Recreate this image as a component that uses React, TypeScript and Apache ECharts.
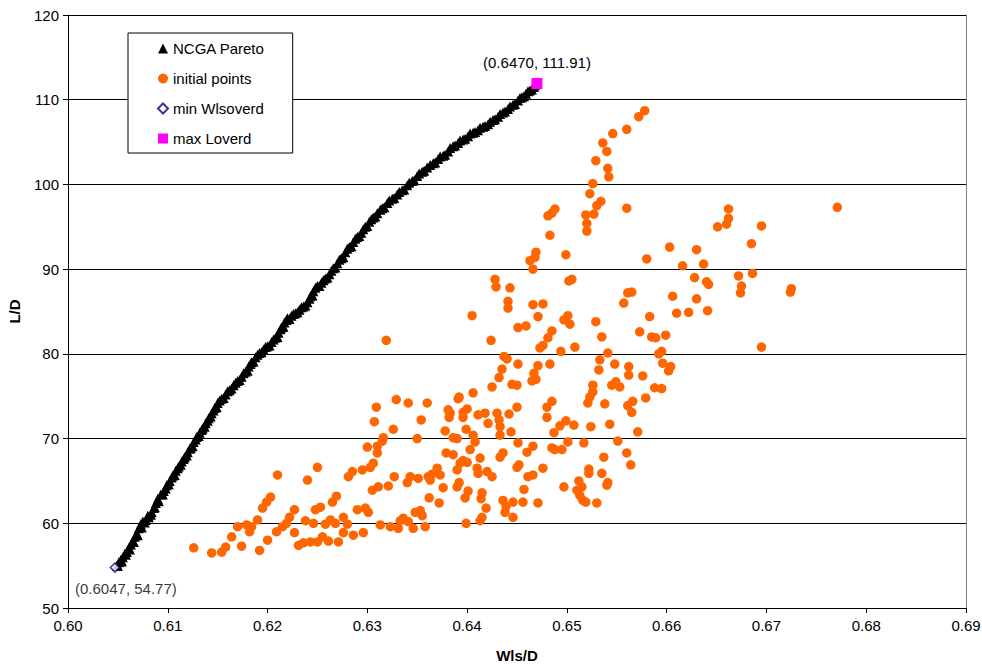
import React, { useEffect, useRef } from "react";
import * as echarts from "echarts";

const FONT = "'Liberation Sans', Arial, sans-serif";

const xRange = [0.6, 0.69];
const yRange = [50, 120];
const xStep = 0.01;
const yStep = 10;

const seriesNames = ["NCGA Pareto", "initial points", "min Wlsoverd", "max Loverd"];
const axisNames = { x: "Wls/D", y: "L/D" };

const minPoint = [[0.6047, 54.77]];
const maxPoint = [[0.647, 111.91]];

const paretoPoints = [
  [0.6049, 55.0], [0.6051, 55.4], [0.6053, 55.7], [0.6055, 56.0], [0.6057, 56.4], [0.6059, 56.6],
  [0.6061, 57.1], [0.6063, 57.5], [0.6065, 57.9], [0.6067, 58.4], [0.6069, 58.8], [0.6071, 59.4],
  [0.6073, 59.9], [0.6075, 60.2], [0.6078, 60.4], [0.6081, 60.7], [0.6084, 61.3], [0.6086, 61.8],
  [0.6088, 62.4], [0.609, 62.9], [0.6093, 63.4], [0.6096, 63.8], [0.6099, 64.5], [0.6102, 65.0],
  [0.6105, 65.6], [0.6108, 66.2], [0.6111, 66.7], [0.6114, 67.3], [0.6117, 67.8], [0.612, 68.4],
  [0.6123, 68.9], [0.6126, 69.6], [0.6129, 70.2], [0.6132, 70.7], [0.6135, 71.2], [0.6138, 71.8],
  [0.6141, 72.4], [0.6144, 73.0], [0.6147, 73.6], [0.615, 74.2], [0.6154, 74.7], [0.6158, 75.2],
  [0.6162, 75.7], [0.6166, 76.3], [0.617, 76.8], [0.6174, 77.3], [0.6178, 77.9], [0.6181, 78.5],
  [0.6184, 79.0], [0.6188, 79.6], [0.6192, 80.1], [0.6196, 80.5], [0.62, 80.9], [0.6204, 81.4],
  [0.6208, 81.9], [0.6211, 82.5], [0.6214, 83.1], [0.6217, 83.7], [0.622, 84.2], [0.6224, 84.5],
  [0.6228, 84.8], [0.6232, 85.2], [0.6236, 85.6], [0.624, 86.1], [0.6243, 86.8], [0.6246, 87.4],
  [0.625, 88.0], [0.6254, 88.4], [0.6258, 88.9], [0.6262, 89.4], [0.6266, 90.1], [0.627, 90.7],
  [0.6274, 91.3], [0.6278, 92.0], [0.6282, 92.6], [0.6286, 93.2], [0.629, 93.8], [0.6294, 94.3],
  [0.6298, 95.0], [0.6302, 95.6], [0.6306, 96.1], [0.631, 96.6], [0.6315, 97.2], [0.632, 97.8],
  [0.6325, 98.3], [0.633, 98.8], [0.6335, 99.3], [0.634, 99.9], [0.6345, 100.4], [0.635, 101.0],
  [0.6355, 101.5], [0.636, 102.0], [0.6366, 102.5], [0.6371, 103.0], [0.6376, 103.4], [0.6381, 103.9],
  [0.6386, 104.5], [0.6391, 104.9], [0.6396, 105.3], [0.6401, 105.7], [0.6406, 106.1], [0.6411, 106.4],
  [0.6416, 106.8], [0.6421, 107.1], [0.6426, 107.6], [0.6431, 108.0], [0.6436, 108.5], [0.6441, 108.9],
  [0.6446, 109.4], [0.6451, 109.9], [0.6455, 110.3], [0.6459, 110.7], [0.6463, 111.1], [0.6467, 111.5],
  [0.605, 55.0], [0.6054, 55.5], [0.6058, 56.3], [0.6062, 56.9], [0.6066, 57.8], [0.607, 58.6],
  [0.6074, 59.5], [0.6077, 60.1], [0.608, 60.9], [0.6083, 61.0], [0.6087, 61.9], [0.6091, 62.6],
  [0.6095, 63.4], [0.6098, 64.1], [0.6101, 64.6], [0.6104, 65.4], [0.6107, 65.7], [0.611, 66.5],
  [0.6113, 66.9], [0.6116, 67.6], [0.6119, 68.0], [0.6122, 68.8], [0.6125, 69.1], [0.6128, 69.9],
  [0.6131, 70.3], [0.6134, 71.0], [0.6137, 71.4], [0.614, 72.1], [0.6143, 72.6], [0.6146, 73.3],
  [0.6149, 73.7], [0.6152, 74.5], [0.6156, 74.8], [0.616, 75.6], [0.6164, 75.9], [0.6168, 76.6],
  [0.6172, 76.9], [0.6176, 77.7], [0.618, 78.0], [0.6183, 78.8], [0.6186, 79.1], [0.619, 79.9],
  [0.6194, 80.2], [0.6198, 80.8], [0.6202, 81.0], [0.6206, 81.7], [0.621, 82.0], [0.6213, 82.9],
  [0.6216, 83.2], [0.6219, 84.0], [0.6222, 84.1], [0.6226, 84.7], [0.623, 84.9], [0.6234, 85.5],
  [0.6238, 85.7], [0.6242, 86.5], [0.6245, 86.9], [0.6248, 87.8], [0.6252, 88.0], [0.6256, 88.7],
  [0.626, 89.0], [0.6264, 89.8], [0.6268, 90.2], [0.6272, 91.1], [0.6276, 91.4], [0.628, 92.4],
  [0.6284, 92.7], [0.6288, 93.6], [0.6292, 93.9], [0.6296, 94.7], [0.63, 95.1], [0.6304, 95.9],
  [0.6308, 96.2], [0.6313, 97.0], [0.6317, 97.3], [0.6322, 98.1], [0.6327, 98.4], [0.6332, 99.1],
  [0.6337, 99.4], [0.6342, 100.2], [0.6347, 100.5], [0.6352, 101.3], [0.6357, 101.6], [0.6363, 102.3],
  [0.6368, 102.6], [0.6373, 103.3], [0.6378, 103.5], [0.6383, 104.3], [0.6388, 104.6], [0.6393, 105.2],
  [0.6398, 105.4], [0.6403, 106.0], [0.6408, 106.2], [0.6413, 106.7], [0.6418, 106.9], [0.6423, 107.4],
  [0.6428, 107.7], [0.6433, 108.3], [0.6438, 108.6], [0.6443, 109.2], [0.6448, 109.5], [0.6453, 110.2],
  [0.6457, 110.4], [0.6461, 111.0], [0.6465, 111.2], [0.6468, 111.7],
];

const initialPoints = [
  // lower left cluster
  [0.6126, 57.1], [0.6144, 56.5], [0.6154, 56.6], [0.6158, 57.2], [0.6164, 58.4], [0.6174, 57.3],
  [0.617, 59.6], [0.6179, 59.8], [0.6182, 59.0], [0.6184, 59.6], [0.619, 60.4], [0.6192, 56.8],
  [0.6195, 61.8], [0.6199, 62.5], [0.6203, 63.1], [0.62, 58.0], [0.621, 65.7], [0.6209, 59.0],
  [0.6215, 59.6], [0.6219, 60.0], [0.6222, 60.7], [0.6227, 61.6], [0.6227, 58.9], [0.6231, 57.4],
  [0.6236, 57.7], [0.624, 65.1], [0.6238, 60.3], [0.6243, 57.8], [0.6246, 60.0], [0.6248, 61.6],
  [0.625, 66.6], [0.625, 57.8], [0.6253, 61.9], [0.6255, 58.4], [0.6258, 59.9], [0.6261, 57.9],
  [0.6265, 62.5], [0.6263, 60.4], [0.6268, 60.0], [0.6269, 63.2], [0.6271, 57.8], [0.6276, 60.7],
  [0.6276, 58.9], [0.628, 59.9], [0.6281, 65.5], [0.6285, 66.1], [0.6286, 58.6], [0.629, 61.6],
  // middle cluster
  [0.6425, 76.1], [0.6445, 76.4], [0.645, 76.3], [0.6465, 76.8], [0.6406, 75.4], [0.6392, 74.9],
  [0.6391, 74.7], [0.6309, 73.7], [0.6329, 74.6], [0.6341, 74.2], [0.636, 74.2], [0.6381, 73.4],
  [0.6383, 73.0], [0.6396, 73.1], [0.64, 73.5], [0.6396, 72.5], [0.6411, 72.8], [0.6418, 73.0],
  [0.643, 73.0], [0.6442, 72.9], [0.645, 73.7], [0.6421, 71.8], [0.6432, 72.2], [0.6433, 71.4],
  [0.6444, 70.8], [0.6433, 70.4], [0.6307, 72.0], [0.6326, 71.1], [0.6354, 72.2], [0.6378, 70.9],
  [0.6399, 71.1], [0.6406, 70.4], [0.6408, 69.6], [0.6386, 70.1], [0.639, 70.0], [0.635, 70.0],
  [0.6316, 70.1], [0.6315, 69.7], [0.63, 69.0], [0.631, 69.1], [0.631, 68.3], [0.6306, 67.1],
  [0.6303, 66.6], [0.6295, 66.3], [0.6403, 68.7], [0.6413, 67.7], [0.6433, 67.8], [0.6436, 68.3],
  [0.6451, 69.5], [0.646, 68.4], [0.6466, 69.1], [0.6379, 68.3], [0.6386, 68.1], [0.6393, 67.1],
  [0.6396, 67.4], [0.64, 67.2], [0.639, 66.3], [0.641, 66.5], [0.6411, 65.9], [0.642, 66.1],
  [0.6425, 65.5], [0.645, 66.6], [0.6452, 66.9], [0.6461, 65.5], [0.6466, 65.7], [0.637, 66.5],
  [0.6365, 65.8], [0.6361, 65.5], [0.6373, 65.7], [0.6343, 65.5], [0.6351, 65.3], [0.634, 64.8],
  [0.6327, 65.5], [0.6321, 64.4], [0.6311, 64.3], [0.6305, 63.9], [0.6363, 65.1], [0.6376, 64.2],
  [0.639, 64.3], [0.6392, 64.8], [0.6401, 63.8], [0.6398, 63.0], [0.6415, 63.6], [0.6414, 62.9],
  [0.6436, 62.7], [0.6439, 62.0], [0.6446, 62.5], [0.6456, 62.5], [0.6457, 64.0], [0.6471, 62.4],
  [0.6362, 63.0], [0.6372, 62.4], [0.6419, 61.8], [0.6415, 60.7], [0.6413, 60.3], [0.6438, 61.3],
  [0.6446, 60.7], [0.6399, 60.0], [0.6348, 61.3], [0.6353, 61.5], [0.6355, 60.9], [0.6336, 60.6],
  [0.6333, 60.3], [0.6341, 60.2], [0.6346, 59.4], [0.6331, 59.4], [0.6323, 59.6], [0.6358, 59.6],
  [0.6313, 59.8], [0.6298, 61.8], [0.6301, 61.3], [0.6296, 58.9], [0.6382, 72.5],
  // lower right cluster
  [0.6526, 76.3], [0.6545, 76.3], [0.6553, 76.1], [0.6549, 76.7], [0.6588, 76.0], [0.6595, 75.9],
  [0.6526, 75.5], [0.6523, 74.9], [0.6521, 74.2], [0.6538, 74.1], [0.6561, 73.9], [0.6566, 74.4],
  [0.6565, 73.1], [0.6579, 74.8], [0.6485, 74.4], [0.648, 73.7], [0.648, 72.5], [0.6499, 72.1],
  [0.6493, 71.5], [0.6507, 71.6], [0.6524, 71.4], [0.6543, 71.7], [0.6487, 70.7], [0.6571, 70.8],
  [0.6501, 69.6], [0.6517, 69.5], [0.6551, 69.7], [0.6485, 68.9], [0.6488, 68.7], [0.6495, 68.7],
  [0.656, 68.3], [0.6537, 67.8], [0.6476, 66.5], [0.6564, 66.9], [0.6522, 66.4], [0.6522, 65.9],
  [0.6535, 65.9], [0.654, 64.5], [0.6541, 64.8], [0.6512, 65.0], [0.6515, 64.3], [0.651, 63.9],
  [0.6497, 64.3], [0.6513, 63.3], [0.6516, 62.7], [0.6519, 62.5], [0.653, 62.4],
  // upper region
  [0.6578, 108.7], [0.6572, 108.0], [0.656, 106.5], [0.6546, 106.0], [0.6536, 104.9], [0.654, 103.9],
  [0.6529, 102.8], [0.6541, 101.9], [0.6542, 100.9], [0.6526, 100.1], [0.6523, 98.9], [0.6534, 98.0],
  [0.653, 97.5], [0.656, 97.2], [0.6519, 96.4], [0.6527, 96.5], [0.652, 95.4], [0.652, 94.5],
  [0.6488, 97.1], [0.6485, 96.6], [0.6481, 96.3], [0.6483, 94.0], [0.6469, 92.0], [0.6468, 91.4],
  [0.6463, 91.0], [0.6466, 90.0], [0.6499, 91.7], [0.6505, 88.8], [0.6502, 88.6], [0.6428, 88.8],
  [0.6429, 87.9], [0.6443, 87.8], [0.6441, 86.2], [0.6441, 85.4], [0.6466, 85.8], [0.6476, 85.9],
  [0.6471, 84.4], [0.6405, 84.5], [0.6451, 83.1], [0.6459, 83.3], [0.6485, 82.7], [0.6481, 81.9],
  [0.6476, 81.0], [0.6473, 80.7], [0.6501, 84.5], [0.6497, 84.0], [0.6503, 83.5], [0.6529, 83.8],
  [0.6535, 82.0], [0.6541, 80.1], [0.6494, 80.3], [0.6508, 80.8], [0.6424, 81.6], [0.6437, 79.7],
  [0.644, 79.4], [0.6451, 78.8], [0.6435, 78.2], [0.6432, 77.2], [0.6471, 78.6], [0.6483, 78.8],
  [0.6467, 77.7], [0.6469, 77.0], [0.6533, 79.3], [0.6532, 78.1], [0.6548, 78.8], [0.6562, 78.5],
  [0.6562, 77.5], [0.6576, 77.4], [0.6557, 86.0], [0.6561, 87.2], [0.6565, 87.3], [0.658, 91.2],
  [0.6603, 92.6], [0.663, 92.3], [0.6616, 90.4], [0.6637, 90.6], [0.6628, 89.0], [0.664, 88.5],
  [0.6642, 88.2], [0.6606, 86.8], [0.663, 86.5], [0.661, 84.8], [0.6622, 84.9], [0.6641, 85.1],
  [0.6583, 84.4], [0.6573, 82.6], [0.6585, 82.0], [0.6589, 81.9], [0.6599, 82.2], [0.6595, 80.3],
  [0.6592, 80.0], [0.6596, 78.9], [0.6604, 78.5], [0.6602, 78.0], [0.6662, 97.1], [0.6662, 96.0],
  [0.666, 95.3], [0.6651, 95.0], [0.6695, 95.1], [0.6685, 93.0], [0.6771, 97.3], [0.6672, 89.2],
  [0.6686, 89.5], [0.6675, 88.0], [0.6674, 87.2], [0.6724, 87.3], [0.6725, 87.7], [0.6695, 80.8],
  [0.6319, 81.6],
];

export default function App() {
  const ref = useRef<HTMLDivElement>(null);

  useEffect(() => {
    if (!ref.current) return;
    const chart = echarts.init(ref.current, undefined, { renderer: "svg" });
    const txt = { fontFamily: FONT, fontSize: 15, color: "#000" };
    chart.setOption({
      animation: false,
      backgroundColor: "#fff",
      textStyle: { fontFamily: FONT },
      grid: {
        left: 68,
        right: 16,
        top: 15,
        bottom: 56,
        containLabel: false,
        outerBoundsMode: "none",
      },
      legend: {
        orient: "vertical",
        left: 128,
        top: 33,
        backgroundColor: "#fff",
        borderColor: "#000",
        borderWidth: 1,
        borderRadius: 0,
        padding: [8, 28, 7, 29],
        itemGap: 15,
        itemWidth: 10,
        itemHeight: 10,
        textStyle: { ...txt },
        data: [
          { name: seriesNames[0], icon: "triangle" },
          { name: seriesNames[1], icon: "circle" },
          { name: seriesNames[2], icon: "diamond" },
          { name: seriesNames[3], icon: "rect" },
        ],
      },
      xAxis: {
        type: "value",
        min: xRange[0],
        max: xRange[1],
        interval: xStep,
        name: axisNames.x,
        nameLocation: "middle",
        nameGap: 40,
        nameTextStyle: { ...txt, fontWeight: "bold" },
        axisLine: { show: true, onZero: false, lineStyle: { color: "#000", width: 1 } },
        axisTick: { show: true, length: 5, lineStyle: { color: "#000" } },
        axisLabel: { ...txt, margin: 10, formatter: (v: number) => v.toFixed(2) },
        splitLine: { show: false },
      },
      yAxis: [
        {
          type: "value",
          min: yRange[0],
          max: yRange[1],
          interval: yStep,
          name: axisNames.y,
          nameLocation: "middle",
          nameGap: 46,
          nameRotate: 90,
          nameTextStyle: { ...txt, fontWeight: "bold" },
          axisLine: { show: true, onZero: false, lineStyle: { color: "#000", width: 1 } },
          axisTick: { show: true, length: 5, lineStyle: { color: "#000" } },
          axisLabel: { ...txt, margin: 9 },
          splitLine: { show: true, lineStyle: { color: "#000", width: 1 } },
        },
        {
          type: "value",
          position: "right",
          min: yRange[0],
          max: yRange[1],
          interval: yStep,
          axisLine: { show: true, onZero: false, lineStyle: { color: "#808080", width: 1 } },
          axisTick: { show: false },
          axisLabel: { show: false },
          splitLine: { show: false },
        },
      ],
      series: [
        {
          name: seriesNames[1],
          type: "scatter",
          data: initialPoints,
          symbol: "circle",
          symbolSize: 9.5,
          itemStyle: { color: "#FF6600", opacity: 1 },
          z: 2,
        },
        {
          name: seriesNames[0],
          type: "scatter",
          data: paretoPoints,
          symbol: "triangle",
          symbolSize: 10,
          itemStyle: { color: "#000", opacity: 1 },
          z: 3,
        },
        {
          name: seriesNames[2],
          type: "scatter",
          data: minPoint,
          symbol: "diamond",
          symbolSize: 9,
          itemStyle: { color: "#fff", borderColor: "#000080", borderWidth: 1.5 },
          label: {
            show: true,
            position: "bottom",
            distance: 8,
            offset: [11, 0],
            formatter: "(0.6047, 54.77)",
            ...txt,
          },
          z: 4,
        },
        {
          name: seriesNames[3],
          type: "scatter",
          data: maxPoint,
          symbol: "rect",
          symbolSize: 11,
          itemStyle: { color: "#FF00FF", opacity: 1 },
          label: {
            show: true,
            position: "top",
            distance: 8,
            formatter: "(0.6470, 111.91)",
            ...txt,
          },
          z: 4,
        },
      ],
    });
    return () => chart.dispose();
  }, []);

  return (
    <div
      ref={ref}
      style={{ position: "fixed", left: 0, top: 0, width: 982, height: 664, background: "#fff" }}
    />
  );
}
